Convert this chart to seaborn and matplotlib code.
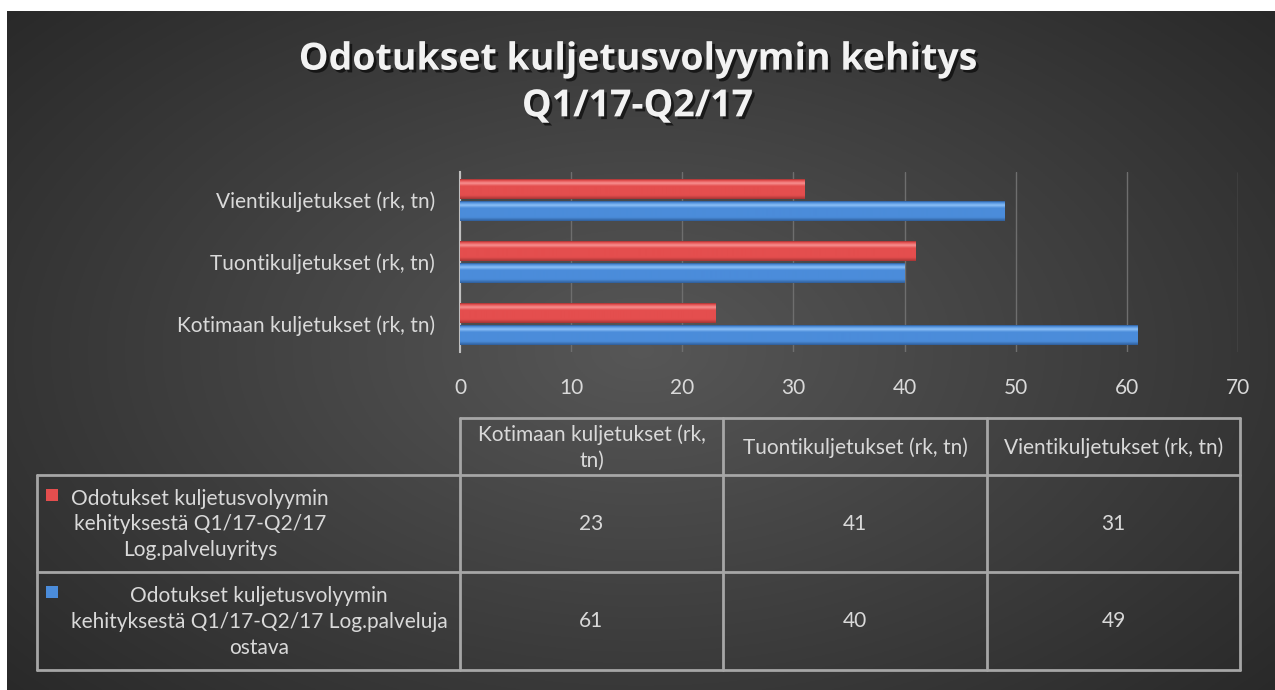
import numpy as np
import pandas as pd
import matplotlib
matplotlib.use("Agg")
import matplotlib.pyplot as plt
import matplotlib.patheffects as pe
from matplotlib.patches import Rectangle
import seaborn as sns

# Data
categories = ['Kotimaan kuljetukset (rk, tn)', 'Tuontikuljetukset (rk, tn)', 'Vientikuljetukset (rk, tn)']
header_labels = ['Kotimaan kuljetukset (rk,\ntn)', 'Tuontikuljetukset (rk, tn)', 'Vientikuljetukset (rk, tn)']
series_names = ['Odotukset kuljetusvolyymin kehityksestä Q1/17-Q2/17 Log.palveluyritys',
                'Odotukset kuljetusvolyymin kehityksestä Q1/17-Q2/17 Log.palveluja ostava']
series_labels = ['Odotukset kuljetusvolyymin\nkehityksestä Q1/17-Q2/17\nLog.palveluyritys',
                 'Odotukset kuljetusvolyymin\nkehityksestä Q1/17-Q2/17 Log.palveluja\nostava']
palveluyritys = [23, 41, 31]
palveluja_ostava = [61, 40, 49]
x_ticks = [0, 10, 20, 30, 40, 50, 60, 70]

df = pd.DataFrame({
    'kategoria': categories * 2,
    'sarja': [series_names[0]] * 3 + [series_names[1]] * 3,
    'arvo': palveluyritys + palveluja_ostava,
})

RED = '#e44e4e'
BLUE = '#4b8cda'
TXT = '#d9d9d9'
LINE = '#a6a6a6'
FONT = ['Lato', 'DejaVu Sans']
FS = 15

sns.set_theme(style='white')
plt.rcParams['font.family'] = FONT

W, H = 1275, 690
fig = plt.figure(figsize=(W / 100, H / 100), dpi=100, facecolor='white')

# dark radial background
bg = fig.add_axes([7 / W, 0, 1 - 7 / W, 1 - 11 / H], zorder=-10)
yy, xx = np.mgrid[0:1:400j, 0:1:700j]
r = np.sqrt(((xx - 0.5) / 0.75) ** 2 + ((yy - 0.5) / 0.85) ** 2)
shade = np.clip(0.34 - 0.2 * r, 0.16, 0.34)
bg.imshow(np.dstack([shade] * 3), aspect='auto', extent=[0, 1, 0, 1])
bg.axis('off')

# title
fig.text(0.5, 1 - 83 / H, 'Odotukset kuljetusvolyymin kehitys\nQ1/17-Q2/17', ha='center', va='center',
         fontsize=27, fontweight='bold', color='#f2f2f2', linespacing=1.3, family=['Open Sans', 'DejaVu Sans'],
         path_effects=[pe.withSimplePatchShadow(offset=(2, -2), shadow_rgbFace='black', alpha=0.6)])

# bar chart
ax = fig.add_axes([460 / W, 1 - 352 / H, 778 / W, 180 / H])
order = categories[::-1]
sns.barplot(data=df, y='kategoria', x='arvo', hue='sarja', order=order, hue_order=series_names,
            palette=[RED, BLUE], saturation=1, orient='h', width=0.7, gap=0.08, legend=False, ax=ax)
ax.set_facecolor('none')
ax.set_xlim(0, 70)
ax.set_ylim(2.45, -0.45)
ax.set_xticks(x_ticks)
ax.set_xlabel('')
ax.set_ylabel('')
ax.grid(axis='x', color='#6e6e6e', linewidth=1)
ax.set_axisbelow(True)
for s in ['top', 'right', 'bottom']:
    ax.spines[s].set_visible(False)
ax.spines['left'].set_color('#bfbfbf')
ax.spines['left'].set_linewidth(1.5)
ax.tick_params(axis='x', length=0, pad=19, labelsize=FS, labelcolor=TXT)
ax.tick_params(axis='y', length=0, pad=18, labelsize=FS, labelcolor=TXT)


def bevel(base, light, dark):
    stops = [0.0, 0.06, 0.2, 0.35, 0.82, 1.0]
    cols = [dark, base, light, base, base, dark]
    rgb = np.array([matplotlib.colors.to_rgb(c) for c in cols])
    t = np.linspace(0, 1, 40)
    arr = np.stack([np.interp(t, stops, rgb[:, i]) for i in range(3)], axis=1)
    return arr[:, None, :]


grads = {matplotlib.colors.to_hex(RED): bevel(RED, '#f79090', '#a83636'),
         matplotlib.colors.to_hex(BLUE): bevel(BLUE, '#8cc0f7', '#30609c')}
for p in list(ax.patches):
    key = matplotlib.colors.to_hex(p.get_facecolor())
    if key not in grads:
        continue
    x0, y0, w, h = p.get_x(), p.get_y(), p.get_width(), p.get_height()
    p.set_edgecolor('none')
    ax.imshow(grads[key], extent=[x0, x0 + w, y0 + h, y0], aspect='auto', zorder=3, clip_path=p)
ax.set_xlim(0, 70)
ax.set_ylim(2.45, -0.45)

# data table below the chart
tab = fig.add_axes([0, 0, 1, 1], zorder=-5)
tab.set_xlim(0, W)
tab.set_ylim(H, 0)
tab.axis('off')
cols = [460, 723, 987, 1240]
rows = [418, 475, 572, 670]
left = 37
kw = dict(color=LINE, linewidth=2)
tab.plot([cols[0], cols[-1]], [rows[0], rows[0]], **kw)
for yv in rows[1:]:
    tab.plot([left, cols[-1]], [yv, yv], **kw)
tab.plot([left, left], [rows[1], rows[-1]], **kw)
for c in cols:
    tab.plot([c, c], [rows[0], rows[-1]], **kw)

for i, lab in enumerate(header_labels):
    tab.text((cols[i] + cols[i + 1]) / 2, (rows[0] + rows[1]) / 2 + 1, lab, ha='center', va='center',
             fontsize=FS, color=TXT, linespacing=1.35)

values = [palveluyritys, palveluja_ostava]
swatch = [RED, BLUE]
label_cx = [200, 259]
for r_i in range(2):
    y_top, y_bot = rows[r_i + 1], rows[r_i + 2]
    tab.add_patch(Rectangle((46, y_top + 14), 12, 12, facecolor=swatch[r_i], edgecolor='none'))
    tab.text(label_cx[r_i], (y_top + y_bot) / 2 + 1, series_labels[r_i], ha='center', va='center',
             multialignment='center', fontsize=FS, color=TXT, linespacing=1.35)
    for c_i, v in enumerate(values[r_i]):
        tab.text((cols[c_i] + cols[c_i + 1]) / 2, (y_top + y_bot) / 2, str(v), ha='center', va='center',
                 fontsize=FS, color=TXT)

plt.savefig('out.png', dpi=100, facecolor='white')
